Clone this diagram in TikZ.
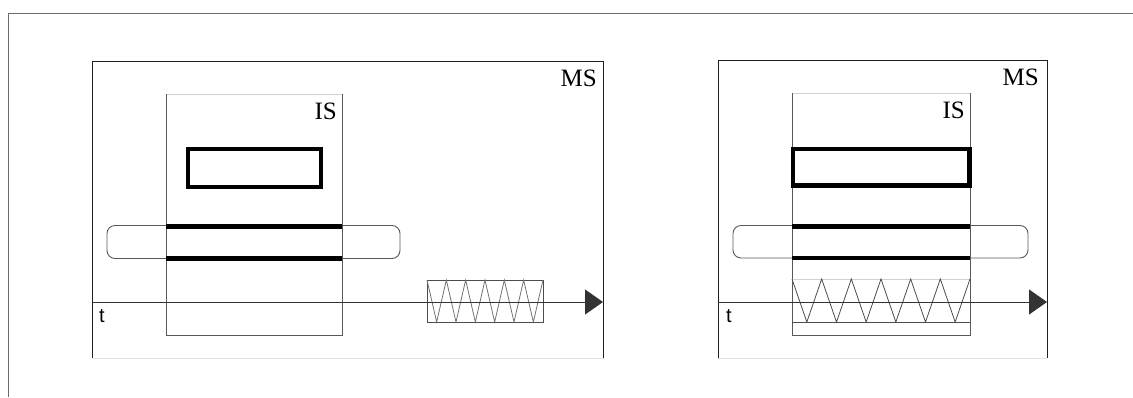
\documentclass[tikz,border=0pt]{standalone}
\usepackage{fontspec}
\setmainfont{Liberation Serif}
\newfontfamily\labelsans{Liberation Sans}
\usetikzlibrary{arrows.meta}

\begin{document}
\begin{tikzpicture}[x=1pt,y=-1pt,
  frame/.style={draw=black!58, line width=1.3pt},
  msbox/.style={draw=black!88, line width=1pt},
  msfoot/.style={draw=black!12, line width=1pt},
  isside/.style={draw=black!65, line width=1pt},
  istop/.style={draw=black!18, line width=1pt},
  heavy/.style={draw=black, line width=4.5pt},
  heavyline/.style={draw=black, line width=4.2pt},
  pill/.style={draw=black!65, line width=0.9pt, rounded corners=8pt},
  springbox/.style={draw=black!70, line width=0.9pt},
  coil/.style={draw=black!55, line width=0.8pt, line join=miter},
  axis/.style={draw=black!80, line width=1pt,
    -{Triangle[length=18pt,width=25pt]}},
  sysname/.style={inner sep=0pt, font=\fontsize{25}{30}\selectfont},
  timename/.style={inner sep=0pt, font=\labelsans\fontsize{20}{24}\selectfont},
]
\useasboundingbox (0,0) rectangle (1133,397);

% outer frame (open at right and bottom)
\draw[frame] (8.5,397) -- (8.5,13.7) -- (1133,13.7);

% ---------------- left panel ----------------
% main system box
\draw[msbox] (92.5,358) -- (92.5,61) -- (603.5,61) -- (603.5,358);
\draw[msfoot] (92.5,358) -- (603.5,358);
\node[sysname, anchor=north east] (msL) at (597,70) {MS};

% inner system box
\draw[istop] (166,94) -- (342,94);
\draw[isside] (166,94) -- (166,335) -- (342,335) -- (342,94);
\node[sysname, anchor=north east] (isL) at (337,103) {IS};

% bold block inside IS
\draw[heavy] (188,149) rectangle (321,187);

% rounded bar crossing IS
\draw[pill] (107,225.5) rectangle (400,258.5);
\draw[heavyline] (166,226.5) -- (342,226.5);
\draw[heavyline] (166,258.5) -- (342,258.5);

% spring element on the time axis
\draw[springbox] (427,280) rectangle (543,322);
\draw[coil] (427,280)
  \foreach \k in {1,...,6} { -- ++(9.667,42) -- ++(9.667,-42) };

% time axis
\coordinate (tL0) at (92.5,302);
\coordinate (tL1) at (603,302);
\draw[axis] (tL0) -- (tL1);
\node[timename, anchor=north west] (tL) at (99,309) {t};

% ---------------- right panel ----------------
\draw[msbox] (718,358) -- (718,60.5) -- (1047,60.5) -- (1047,358);
\draw[msfoot] (718,358) -- (1047,358);
\node[sysname, anchor=north east] (msR) at (1039,69) {MS};

\draw[istop] (792,93) -- (970,93);
\draw[isside] (792,93) -- (792,335) -- (970,335) -- (970,93);
\node[sysname, anchor=north east] (isR) at (965,102) {IS};

\draw[heavy] (793,149) rectangle (969.5,185.5);

\draw[pill] (733,225.5) rectangle (1028,258);
\draw[heavyline] (792,226.5) -- (970,226.5);
\draw[heavyline] (792,258) -- (970,258);

% spring element filling the IS width
\draw[istop] (792,279) -- (970,279);
\draw[springbox] (792,322) -- (970,322);
\draw[coil, draw=black!70] (792,279)
  \foreach \k in {1,...,6} { -- ++(14.833,43) -- ++(14.833,-43) };

\coordinate (tR0) at (718,302);
\coordinate (tR1) at (1047,302);
\draw[axis] (tR0) -- (tR1);
\node[timename, anchor=north west] (tR) at (726,309) {t};
\end{tikzpicture}
\end{document}
